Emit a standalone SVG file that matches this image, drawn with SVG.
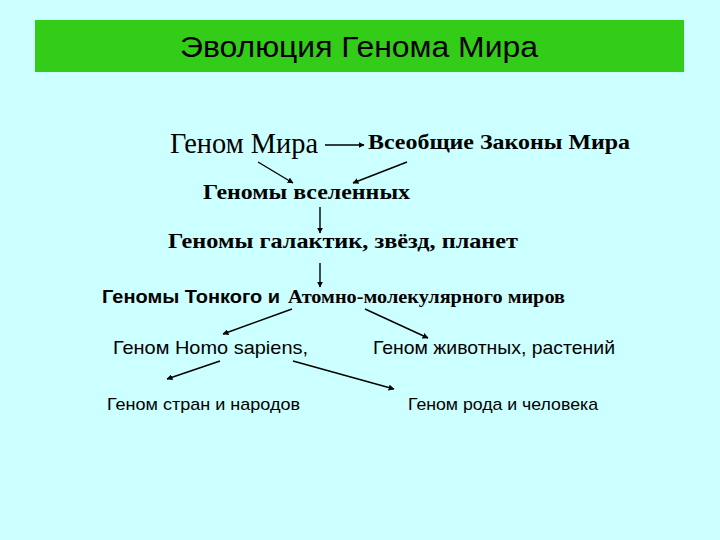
<svg xmlns="http://www.w3.org/2000/svg" width="720" height="540" viewBox="0 0 720 540">
<style>
.sans{font-family:"Liberation Sans",Arial,sans-serif;fill:#000}
.serif{font-family:"Liberation Serif","Times New Roman",serif;fill:#000}
.b{font-weight:bold}
.con line{stroke:#000;stroke-width:1.4;marker-end:url(#ah)}
</style>
<defs>
<marker id="ah" viewBox="0 0 10 10" refX="9" refY="5" markerWidth="6" markerHeight="6" markerUnits="userSpaceOnUse" orient="auto">
<path d="M0,0 L10,5 L0,10 z" fill="#000"/>
</marker>
</defs>
<rect x="0" y="0" width="720" height="540" fill="#CCFFFF"/>
<g id="title">
<rect x="35" y="20" width="649" height="52" fill="#33CC19"/>
<text class="sans" x="180" y="57" font-size="30" textLength="358" lengthAdjust="spacingAndGlyphs">Эволюция Генома Мира</text>
</g>
<g id="n1"><text class="serif" x="170" y="153" font-size="29" textLength="148" lengthAdjust="spacingAndGlyphs">Геном Мира</text></g>
<g id="n2"><text class="serif b" x="368" y="149" font-size="21" textLength="262" lengthAdjust="spacingAndGlyphs">Всеобщие Законы Мира</text></g>
<g id="n3"><text class="serif b" x="203" y="199" font-size="21" textLength="207" lengthAdjust="spacingAndGlyphs">Геномы вселенных</text></g>
<g id="n4"><text class="serif b" x="168" y="248" font-size="21" textLength="350" lengthAdjust="spacingAndGlyphs">Геномы галактик, звёзд, планет</text></g>
<g id="n5">
<text class="sans b" x="102" y="303" font-size="18" textLength="178" lengthAdjust="spacingAndGlyphs">Геномы Тонкого и</text>
<text class="serif b" x="288" y="303" font-size="18" textLength="277" lengthAdjust="spacingAndGlyphs">Атомно-молекулярного миров</text>
</g>
<g id="n6"><text class="sans" x="113" y="354" font-size="19" textLength="195" lengthAdjust="spacingAndGlyphs">Геном Homo sapiens,</text></g>
<g id="n7"><text class="sans" x="373" y="354" font-size="19" textLength="242" lengthAdjust="spacingAndGlyphs">Геном животных, растений</text></g>
<g id="n8"><text class="sans" x="107" y="410" font-size="17" textLength="193" lengthAdjust="spacingAndGlyphs">Геном стран и народов</text></g>
<g id="n9"><text class="sans" x="408" y="410" font-size="17" textLength="190" lengthAdjust="spacingAndGlyphs">Геном рода и человека</text></g>
<g id="connectors" class="con">
<line x1="325" y1="145" x2="364" y2="145"/>
<line x1="258" y1="162" x2="293" y2="183"/>
<line x1="407" y1="162" x2="353" y2="183"/>
<line x1="320" y1="207" x2="320" y2="233"/>
<line x1="320" y1="263" x2="320" y2="287"/>
<line x1="292" y1="309" x2="223" y2="334"/>
<line x1="365" y1="309" x2="428" y2="338"/>
<line x1="220" y1="361" x2="167" y2="379"/>
<line x1="293" y1="361" x2="394" y2="389"/>
</g>
</svg>
